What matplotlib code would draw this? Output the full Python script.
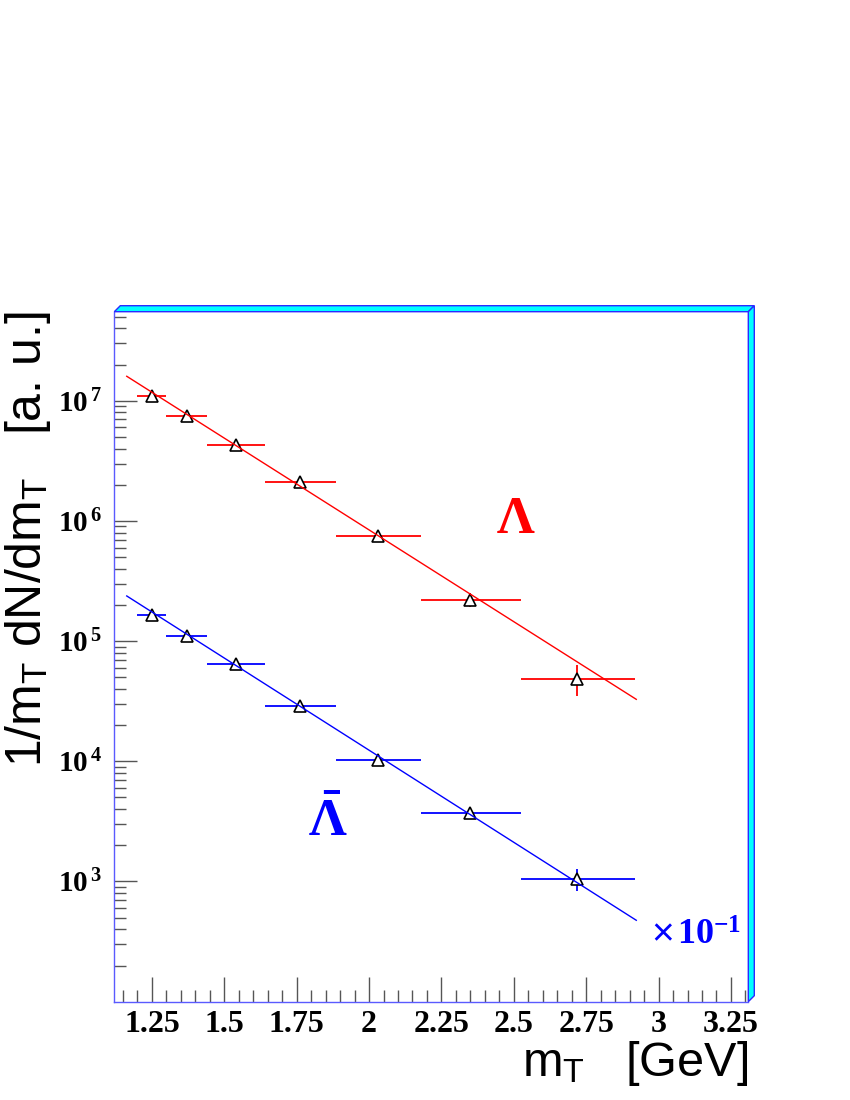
import numpy as np
import matplotlib
matplotlib.use("Agg")
import matplotlib.pyplot as plt
from matplotlib.patches import Polygon
from matplotlib.ticker import FixedLocator, LogLocator, NullFormatter, FixedFormatter

plt.rcParams['mathtext.fontset'] = 'custom'
plt.rcParams['mathtext.rm'] = 'Liberation Serif:bold'
plt.rcParams['mathtext.bf'] = 'Liberation Serif:bold'
plt.rcParams['mathtext.it'] = 'Liberation Serif:bold'
plt.rcParams['mathtext.sf'] = 'Liberation Sans'

# ---- data ----
bin_lo = [1.20, 1.30, 1.44, 1.64, 1.885, 2.18, 2.525]
bin_hi = [1.30, 1.44, 1.64, 1.885, 2.18, 2.525, 2.92]
mt = [1.25, 1.37, 1.54, 1.76, 2.03, 2.35, 2.72]
lam = [1.10e7, 7.5e6, 4.26e6, 2.12e6, 7.5e5, 2.21e5, 4.87e4]
lam_err = [3e5, 2e5, 1.2e5, 6e4, 3e4, 3.0e4, 1.4e4]
alam = [1.66e5, 1.11e5, 6.48e4, 2.9e4, 1.03e4, 3.69e3, 1.05e3]   # scaled x10^-1
alam_err = [4e3, 3e3, 2e3, 8e2, 3e2, 2.5e2, 2.1e2]

fit_range = [1.163, 2.923]
lam_fit_A, lam_fit_T = 9.53e8, 0.2844
alam_fit_A, alam_fit_T = 1.44e7, 0.2833

xtick_vals = [1.25, 1.5, 1.75, 2.0, 2.25, 2.5, 2.75, 3.0, 3.25]
xtick_labels = ['1.25', '1.5', '1.75', '2', '2.25', '2.5', '2.75', '3', '3.25']
ytick_vals = [1e3, 1e4, 1e5, 1e6, 1e7]
ytick_labels = [r'$10^{\,3}$', r'$10^{\,4}$', r'$10^{\,5}$', r'$10^{\,6}$', r'$10^{\,7}$']

fig = plt.figure(figsize=(8.5, 11), dpi=100)
ax = fig.add_axes([114.3/850, (1100-1001.7)/1100, 634/850, 690/1100])
ax.set_xlim(1.12, 3.31)
ax.set_yscale('log')
ax.set_ylim(1e2, 5.5e7)

mt_a = np.array(mt)
xerr = [mt_a - np.array(bin_lo), np.array(bin_hi) - mt_a]

for y, yerr, c, A, T in [(lam, lam_err, '#ff0000', lam_fit_A, lam_fit_T),
                         (alam, alam_err, '#0000ff', alam_fit_A, alam_fit_T)]:
    ax.errorbar(mt, y, xerr=xerr, yerr=yerr, fmt='none', ecolor=c,
                elinewidth=1.3, capsize=0, zorder=2)
    ax.plot(mt, y, linestyle='none', marker='^', markersize=9,
            markerfacecolor='white', markeredgecolor='black',
            markeredgewidth=1.2, zorder=3)
    xf = np.linspace(fit_range[0], fit_range[1], 200)
    ax.plot(xf, A*np.exp(-xf/T), color=c, lw=1.0, zorder=4)

# ticks
ax.xaxis.set_major_locator(FixedLocator(xtick_vals))
ax.xaxis.set_major_formatter(FixedFormatter(xtick_labels))
ax.xaxis.set_minor_locator(FixedLocator(np.round(np.arange(1.15, 3.31, 0.05), 3)))
ax.yaxis.set_major_locator(FixedLocator(ytick_vals))
ax.yaxis.set_major_formatter(FixedFormatter(ytick_labels))
ax.yaxis.set_minor_locator(LogLocator(base=10, subs=np.arange(2, 10), numticks=20))
ax.yaxis.set_minor_formatter(NullFormatter())

ax.tick_params(axis='both', which='both', direction='in', color='#555555', width=1,
               top=False, right=False)
ax.tick_params(axis='x', which='major', length=18, pad=6)
ax.tick_params(axis='x', which='minor', length=9)
ax.tick_params(axis='y', which='major', length=16.5, pad=9)
ax.tick_params(axis='y', which='minor', length=8.5)
for lab in ax.get_xticklabels():
    lab.set_fontfamily('Liberation Serif')
    lab.set_fontweight('bold')
    lab.set_fontsize(23)
for lab in ax.get_yticklabels():
    lab.set_fontsize(21)

for s in ['top', 'right']:
    ax.spines[s].set_visible(False)
for s in ['left', 'bottom']:
    ax.spines[s].set_color('#5a5aff')
    ax.spines[s].set_linewidth(1)

# 3D frame border (top and right)
dx, dy = 6/634, 6/690
top_band = Polygon([(0, 1), (1, 1), (1+dx, 1+dy), (dx, 1+dy)], closed=True,
                   transform=ax.transAxes, facecolor='#00ffff', edgecolor='#2a2aff',
                   lw=1, clip_on=False, zorder=5)
right_band = Polygon([(1, 1), (1+dx, 1+dy), (1+dx, dy), (1, 0)], closed=True,
                     transform=ax.transAxes, facecolor='#00ffff', edgecolor='#2a2aff',
                     lw=1, clip_on=False, zorder=5)
ax.add_patch(top_band)
ax.add_patch(right_band)

# labels
fig.text(28/850, 1 - 311/1100, r'1/m$_\mathsf{T}$ dN/dm$_\mathsf{T}$   [a. u.]',
         fontfamily='Liberation Sans', fontsize=36, rotation=90,
         ha='center', va='top')
ax.set_xlabel(r'm$_\mathsf{T}$   [GeV]', fontfamily='Liberation Sans',
              fontsize=35, loc='right', labelpad=0)

# annotations
ax.text(2.505, 8.0e5, r'$\mathrm{\Lambda}$', color='#ff0000', fontsize=38,
        ha='center', va='baseline')
ax.text(1.857, 2.4e3, r'$\mathrm{\bar{\Lambda}}$', color='#0000ff', fontsize=38,
        ha='center', va='baseline')
ax.text(2.975, 2.96e2, '×', color='#0000ff', fontsize=28, fontfamily='Liberation Sans',
        ha='left', va='baseline')
ax.text(3.062, 2.96e2, r'$10^{-1}$', color='#0000ff', fontsize=26,
        ha='left', va='baseline')

fig.savefig('out.png', dpi=100)
